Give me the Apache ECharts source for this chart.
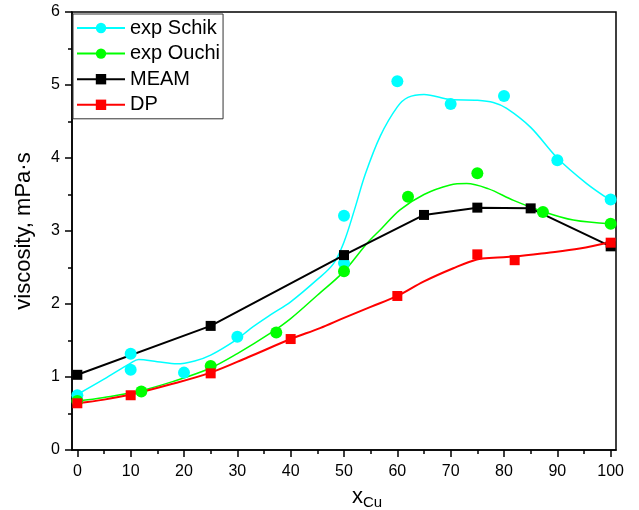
<!DOCTYPE html>
<html>
<head>
<meta charset="utf-8">
<script src="https://cdn.jsdelivr.net/npm/echarts@6/dist/echarts.min.js"></script>
<style>
html,body{margin:0;padding:0;background:#fff;}
#chart{width:639px;height:510px;}
</style>
</head>
<body>
<div id="chart"></div>
<script>
// ---- data ----
var legendNames = ['exp Schik', 'exp Ouchi', 'MEAM', 'DP'];
var xTickValues = [0, 10, 20, 30, 40, 50, 60, 70, 80, 90, 100];
var xMinorValues = [5, 15, 25, 35, 45, 55, 65, 75, 85, 95];

// exp Schik (points)
var schikX = [0, 10, 10, 20, 30, 50, 50, 60, 70, 80, 90, 100];
var schikY = [0.75, 1.32, 1.10, 1.06, 1.55, 2.56, 3.21, 5.05, 4.74, 4.85, 3.97, 3.43];
// exp Schik (fitted curve, traced)
var schikCurveX = [0, 5, 10, 11.5, 15, 18.7, 22, 25, 30, 32.4, 36.2, 40, 44.9, 48, 50, 52, 54, 56.8, 60, 62, 65, 70, 75, 78, 80.5, 85, 90, 95.5, 100];
var schikCurveY = [0.76, 0.97, 1.19, 1.24, 1.21, 1.18, 1.22, 1.30, 1.52, 1.66, 1.85, 2.03, 2.33, 2.55, 2.85, 3.30, 3.78, 4.30, 4.70, 4.83, 4.87, 4.80, 4.79, 4.76, 4.68, 4.42, 4.00, 3.65, 3.42];

// exp Ouchi (points)
var ouchiX = [0, 12, 25, 37.3, 50, 62, 75, 87.3, 100];
var ouchiY = [0.67, 0.80, 1.15, 1.61, 2.45, 3.47, 3.79, 3.26, 3.10];
// exp Ouchi (fitted curve, traced)
var ouchiCurveX = [0, 5, 11.2, 18, 24.9, 30, 36.2, 40, 45, 49.9, 54.3, 57, 60.5, 65, 69.9, 73, 77, 81.8, 86.8, 93, 100];
var ouchiCurveY = [0.67, 0.72, 0.80, 0.94, 1.12, 1.32, 1.60, 1.80, 2.12, 2.44, 2.83, 3.03, 3.29, 3.50, 3.63, 3.65, 3.58, 3.42, 3.28, 3.15, 3.10];

// MEAM
var meamX = [0, 25, 50, 65, 75, 85, 100];
var meamY = [1.03, 1.70, 2.67, 3.22, 3.32, 3.31, 2.79];

// DP (points)
var dpX = [0, 10, 25, 40, 60, 75, 82, 100];
var dpY = [0.64, 0.75, 1.05, 1.52, 2.11, 2.68, 2.60, 2.84];
// DP (fitted curve, traced)
var dpCurveX = [0, 5, 10, 17, 25, 32, 40, 45.5, 50, 55, 60, 65, 70.5, 74.9, 78, 82, 88, 94.2, 100];
var dpCurveY = [0.64, 0.69, 0.76, 0.89, 1.06, 1.27, 1.52, 1.67, 1.81, 1.96, 2.11, 2.31, 2.49, 2.61, 2.635, 2.65, 2.70, 2.76, 2.85];

function zip(xs, ys) { return xs.map(function (x, i) { return [x, ys[i]]; }); }

var FONT = '"Liberation Sans", Arial, sans-serif';
var CYAN = '#00ffff', GREEN = '#00ff00', BLACK = '#000000', RED = '#ff0000';

var chart = echarts.init(document.getElementById('chart'), null, { renderer: 'canvas' });
chart.setOption({
  animation: false,
  backgroundColor: '#ffffff',
  textStyle: { fontFamily: FONT },
  grid: {
    left: 72, right: 23, top: 12, bottom: 60,
    containLabel: false, outerBoundsMode: 'none',
    show: true, borderColor: '#000', borderWidth: 1.5, backgroundColor: 'transparent'
  },
  legend: {
    data: legendNames,
    orient: 'vertical',
    left: 73, top: 14,
    itemWidth: 48, itemHeight: 13, itemGap: 5.6,
    padding: [4, 3, 4, 3],
    borderColor: '#333', borderWidth: 1,
    backgroundColor: '#fff',
    textStyle: { fontSize: 20, color: '#000', fontFamily: FONT },
    selectedMode: false
  },
  xAxis: [{
    type: 'value', min: -1, max: 101,
    name: '{x|x}{sub|Cu}',
    nameLocation: 'middle', nameGap: 33,
    nameTextStyle: {
      padding: [0, 0, 0, 46],
      rich: {
        x: { fontSize: 22, color: '#000', fontFamily: FONT },
        sub: { fontSize: 15, color: '#000', fontFamily: FONT, padding: [12, 0, 0, 0] }
      }
    },
    splitLine: { show: false },
    axisLine: { show: true, onZero: false, lineStyle: { color: '#000', width: 1.5 } },
    axisTick: { show: true, inside: false, length: 7, customValues: xTickValues, lineStyle: { color: '#000', width: 1.5 } },
    axisLabel: { show: true, customValues: xTickValues, fontSize: 16, color: '#000', margin: 14, fontFamily: FONT }
  }, {
    type: 'value', min: -1, max: 101, position: 'bottom', gridIndex: 0,
    splitLine: { show: false },
    axisLine: { show: false },
    axisTick: { show: true, inside: false, length: 4, customValues: xMinorValues, lineStyle: { color: '#000', width: 1.5 } },
    axisLabel: { show: false }
  }],
  yAxis: {
    type: 'value', min: 0, max: 6, interval: 1,
    name: 'viscosity, mPa·s',
    nameLocation: 'middle', nameGap: 37,
    nameTextStyle: { fontSize: 22, color: '#000', fontFamily: FONT },
    splitLine: { show: false },
    axisLine: { show: true, onZero: false, lineStyle: { color: '#000', width: 1.5 } },
    axisTick: { show: true, inside: false, length: 7, lineStyle: { color: '#000', width: 1.5 } },
    minorTick: { show: true, splitNumber: 2, length: 4, lineStyle: { color: '#000', width: 1.5 } },
    axisLabel: { fontSize: 16, color: '#000', margin: 12, fontFamily: FONT }
  },
  series: [
    { name: 'exp Schik', type: 'line', data: zip(schikCurveX, schikCurveY), smooth: 0.35,
      symbol: 'circle', symbolSize: 12, showSymbol: false,
      lineStyle: { color: CYAN, width: 1.5 }, itemStyle: { color: CYAN }, z: 2 },
    { name: 'schikPoints', type: 'scatter', data: zip(schikX, schikY),
      symbol: 'circle', symbolSize: 12, itemStyle: { color: CYAN, opacity: 1 }, z: 2 },
    { name: 'exp Ouchi', type: 'line', data: zip(ouchiCurveX, ouchiCurveY), smooth: 0.35,
      symbol: 'circle', symbolSize: 12, showSymbol: false,
      lineStyle: { color: GREEN, width: 1.5 }, itemStyle: { color: GREEN }, z: 2 },
    { name: 'ouchiPoints', type: 'scatter', data: zip(ouchiX, ouchiY),
      symbol: 'circle', symbolSize: 12, itemStyle: { color: GREEN, opacity: 1 }, z: 2 },
    { name: 'MEAM', type: 'line', data: zip(meamX, meamY), smooth: false,
      symbol: 'rect', symbolSize: 10, showSymbol: true,
      lineStyle: { color: BLACK, width: 2 }, itemStyle: { color: BLACK }, z: 2 },
    { name: 'DP', type: 'line', data: zip(dpCurveX, dpCurveY), smooth: 0.35,
      symbol: 'rect', symbolSize: 10, showSymbol: false,
      lineStyle: { color: RED, width: 2 }, itemStyle: { color: RED }, z: 2 },
    { name: 'dpPoints', type: 'scatter', data: zip(dpX, dpY),
      symbol: 'rect', symbolSize: 10, itemStyle: { color: RED, opacity: 1 }, z: 2 }
  ]
});
</script>
</body>
</html>
